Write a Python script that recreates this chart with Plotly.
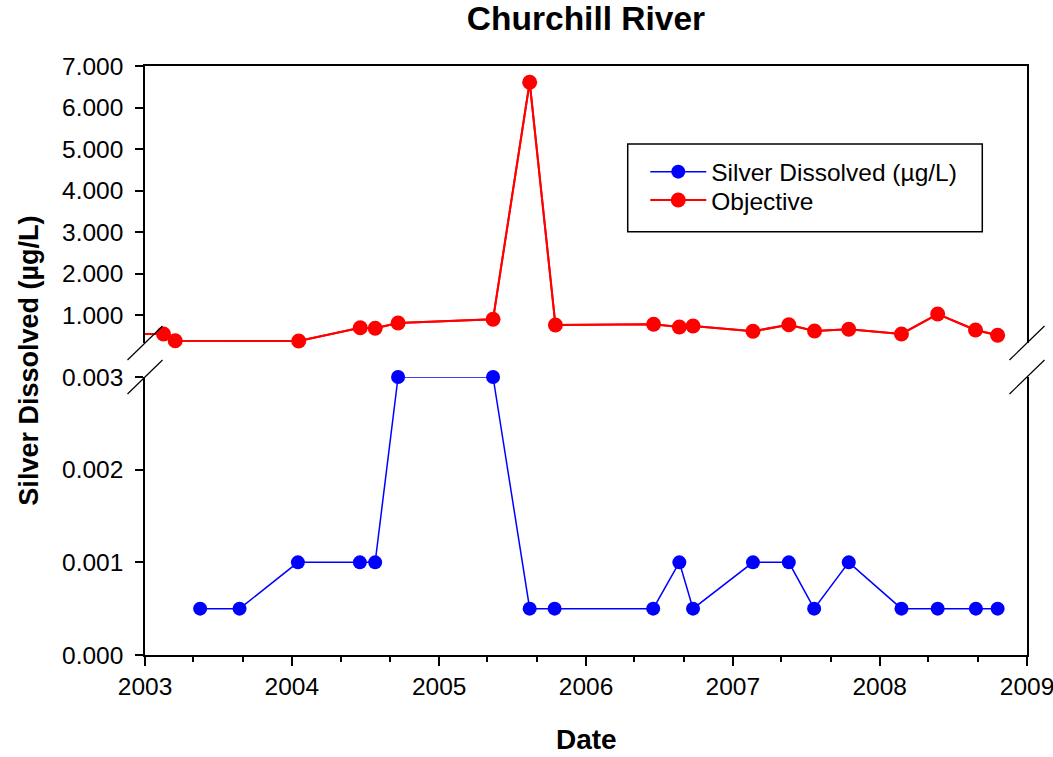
import plotly.graph_objects as go

# ---------------- data ----------------
silver_dates = ["2003-05-18", "2003-08-24", "2004-01-16", "2004-06-18", "2004-07-26",
                "2004-09-21", "2005-05-15", "2005-08-14", "2005-10-15", "2006-06-17",
                "2006-08-21", "2006-09-24", "2007-02-20", "2007-05-20", "2007-07-22",
                "2007-10-16", "2008-02-24", "2008-05-24", "2008-08-27", "2008-10-20"]
silver_values = [0.0005, 0.0005, 0.001, 0.001, 0.001,
                 0.003, 0.003, 0.0005, 0.0005, 0.0005,
                 0.001, 0.0005, 0.001, 0.001, 0.0005,
                 0.001, 0.0005, 0.0005, 0.0005, 0.0005]

objective_dates = ["2002-10-15", "2003-02-16", "2003-03-17", "2004-01-18", "2004-06-19",
                   "2004-07-26", "2004-09-21", "2005-05-15", "2005-08-14", "2005-10-17",
                   "2006-06-18", "2006-08-21", "2006-09-24", "2007-02-20", "2007-05-20",
                   "2007-07-23", "2007-10-16", "2008-02-24", "2008-05-24", "2008-08-26",
                   "2008-10-20"]
objective_values = [0.55, 0.542, 0.381, 0.373, 0.694,
                    0.680, 0.807, 0.896, 6.61, 0.759,
                    0.776, 0.711, 0.735, 0.607, 0.766,
                    0.614, 0.655, 0.542, 1.024, 0.639,
                    0.511]

x_start, x_end = "2003-01-01", "2009-01-01"
year_ticks = ["2003", "2004", "2005", "2006", "2007", "2008", "2009"]

FONT = "Liberation Sans, Arial, sans-serif"
BLUE = "rgb(0,0,255)"
RED = "rgb(255,0,0)"
TICK_SIZE = 24.5

fig = go.Figure()

# red line including the out-of-range earlier sample (clipped at the axis)
fig.add_trace(go.Scatter(x=objective_dates, y=objective_values, mode="lines",
                         line=dict(color=RED, width=2), xaxis="x2", yaxis="y2",
                         showlegend=False, hoverinfo="skip"))

in_range = [(d, v) for d, v in zip(objective_dates, objective_values) if d >= x_start]
fig.add_trace(go.Scatter(x=[d for d, _ in in_range], y=[v for _, v in in_range],
                         mode="lines+markers", name="Objective",
                         line=dict(color=RED, width=2),
                         marker=dict(color=RED, size=15, symbol="circle"),
                         xaxis="x2", yaxis="y2", cliponaxis=False,
                         legend="legend2"))

fig.add_trace(go.Scatter(x=silver_dates, y=silver_values, mode="lines+markers",
                         name="Silver Dissolved (µg/L)",
                         line=dict(color=BLUE, width=1.5),
                         marker=dict(color=BLUE, size=14, symbol="circle"),
                         xaxis="x", yaxis="y", cliponaxis=False, legend="legend"))

axis_common = dict(showgrid=False, zeroline=False, showline=True, linecolor="black",
                   linewidth=1.5, tickcolor="black", tickwidth=1.5, automargin=False,
                   tickfont=dict(family=FONT, size=TICK_SIZE, color="black"))

lower_dom = [0, 0.472]
upper_dom = [0.5297, 1]

legend_common = dict(x=0.5672, xanchor="left", yanchor="middle",
                     bgcolor="rgba(0,0,0,0)", borderwidth=0, itemwidth=56,
                     font=dict(family=FONT, size=TICK_SIZE, color="black"))

fig.update_layout(
    width=1053, height=757,
    margin=dict(l=145, r=26, t=66, b=102, autoexpand=False),
    paper_bgcolor="white", plot_bgcolor="white",
    font=dict(family=FONT, color="black"),
    title=dict(text="Churchill River", x=0.5, xref="paper", y=0.976, yanchor="middle",
               font=dict(family=FONT, size=33.5, weight="bold", color="black")),
    xaxis=dict(axis_common, domain=[0, 1], anchor="y", type="date",
               range=[x_start, x_end], tickvals=[y + "-01-01" for y in year_ticks],
               ticktext=year_ticks, ticks="outside", ticklen=9,
               ticklabeloverflow="allow",
               minor=dict(dtick="M4", tick0=x_start, ticks="outside", ticklen=5,
                          tickwidth=1.5, tickcolor="black", showgrid=False)),
    xaxis2=dict(axis_common, domain=[0, 1], anchor="y2", type="date", matches="x",
                range=[x_start, x_end], side="top", showticklabels=False, ticks=""),
    yaxis=dict(axis_common, domain=lower_dom, anchor="x", range=[0, 0.003],
               tickvals=[0, 0.001, 0.002, 0.003], tickformat=".3f",
               ticks="outside", ticklen=8, mirror=True, ticklabelstandoff=7),
    yaxis2=dict(axis_common, domain=upper_dom, anchor="x2", range=[0.325, 7],
                tickvals=[1, 2, 3, 4, 5, 6, 7], tickformat=".3f",
                ticks="outside", ticklen=8, mirror=True, ticklabelstandoff=7),
    legend=dict(legend_common, y=0.8205),
    legend2=dict(legend_common, y=0.7723),
    showlegend=True,
)

# axis titles
fig.add_annotation(text="Silver Dissolved (µg/L)", textangle=-90, xref="paper", yref="paper",
                   x=-0.1325, y=0.5, xanchor="center", yanchor="middle", showarrow=False,
                   font=dict(family=FONT, size=27, weight="bold", color="black"))
fig.add_annotation(text="Date", xref="paper", yref="paper", x=0.5, y=-0.1443,
                   xanchor="center", yanchor="middle", showarrow=False,
                   font=dict(family=FONT, size=28, weight="bold", color="black"))

# legend frame
fig.add_shape(type="rect", xref="paper", yref="paper", x0=0.5473, x1=0.9493,
              y0=0.7187, y1=0.8676, line=dict(color="black", width=1.5),
              fillcolor="rgba(0,0,0,0)")

# axis break marks
for xa in (0, 1):
    for ya in (upper_dom[0], lower_dom[1]):
        fig.add_shape(type="line", xref="paper", yref="paper",
                      xsizemode="pixel", ysizemode="pixel", xanchor=xa, yanchor=ya,
                      x0=-17.5, x1=17.5, y0=-17, y1=17,
                      line=dict(color="black", width=1.2))

fig.write_html("out.html", config={"displayModeBar": False},
               post_script="document.body.style.margin='0px';"
                           "document.body.style.overflow='hidden';")
